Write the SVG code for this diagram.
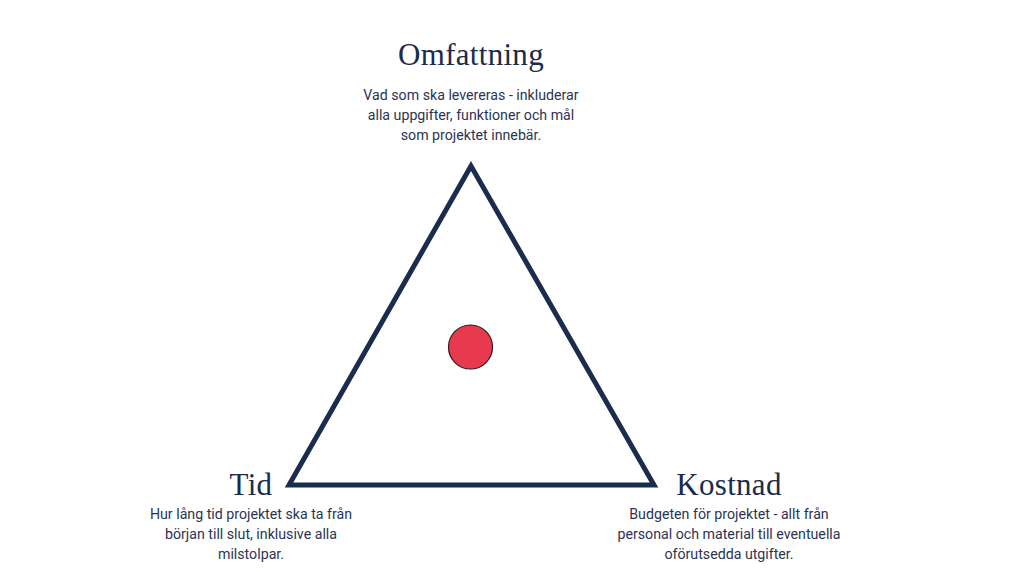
<svg xmlns="http://www.w3.org/2000/svg" width="1024" height="576" viewBox="0 0 1024 576">
<style>
.title{font-family:"Liberation Serif","DejaVu Serif",serif;font-size:31px;letter-spacing:0.3px;fill:#1b2b4b;text-anchor:middle}
.body{font-family:Roboto,"Liberation Sans",sans-serif;font-size:14.2px;fill:#2b3553;text-anchor:middle}
</style>
<rect width="1024" height="576" fill="#ffffff"/>
<g id="connectors">
<polygon points="471,166 289,485 654,485" fill="none" stroke="#1b2d4f" stroke-width="5" stroke-linejoin="miter"/>
</g>
<g id="center">
<circle cx="470.5" cy="347" r="22" fill="#e83a4f" stroke="#2a1a1a" stroke-width="1.2"/>
</g>
<g id="omfattning">
<text class="title" x="471" y="65">Omfattning</text>
<text class="body" x="471" y="100">Vad som ska levereras - inkluderar</text>
<text class="body" x="471" y="120">alla uppgifter, funktioner och mål</text>
<text class="body" x="471" y="140">som projektet innebär.</text>
</g>
<g id="tid">
<text class="title" x="251" y="495">Tid</text>
<text class="body" x="251" y="519">Hur lång tid projektet ska ta från</text>
<text class="body" x="251" y="539">början till slut, inklusive alla</text>
<text class="body" x="251" y="559">milstolpar.</text>
</g>
<g id="kostnad">
<text class="title" x="729" y="495">Kostnad</text>
<text class="body" x="729" y="519">Budgeten för projektet - allt från</text>
<text class="body" x="729" y="539">personal och material till eventuella</text>
<text class="body" x="729" y="559">oförutsedda utgifter.</text>
</g>
</svg>
